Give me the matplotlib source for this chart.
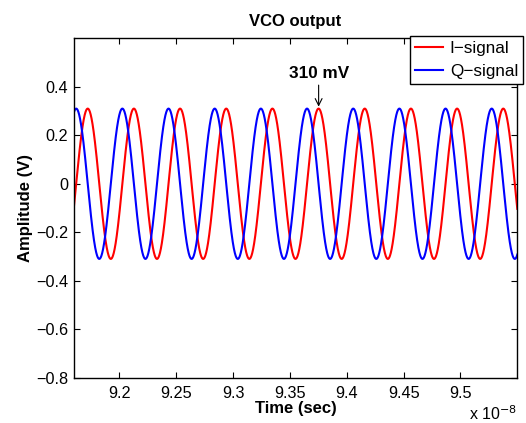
import numpy as np
import matplotlib
matplotlib.use("Agg")
import matplotlib.pyplot as plt

# ---- data ----
amplitude_V = 0.31            # peak amplitude (310 mV)
period_s = 4.06e-10           # oscillation period (~2.46 GHz)
q_peak_time_s = 9.3651e-8     # time of a Q-signal (blue) peak
t_start_s = 9.16e-8
t_end_s = 9.55e-8
annot_time_s = 9.3753e-8      # I-signal peak marked "310 mV"

x_ticks = [9.2, 9.25, 9.3, 9.35, 9.4, 9.45, 9.5]
x_tick_labels = ["9.2", "9.25", "9.3", "9.35", "9.4", "9.45", "9.5"]
y_ticks = [-0.8, -0.6, -0.4, -0.2, 0.0, 0.2, 0.4]
y_tick_labels = ["\u22120.8", "\u22120.6", "\u22120.4", "\u22120.2", "0", "0.2", "0.4"]

t = np.linspace(t_start_s, t_end_s, 4000)
phase = 2 * np.pi * (t - q_peak_time_s) / period_s
i_signal = amplitude_V * np.sin(phase)
q_signal = amplitude_V * np.cos(phase)

plt.rcParams['font.family'] = ['Liberation Sans', 'DejaVu Sans']

fig = plt.figure(figsize=(5.26, 4.23), dpi=100)
L, R, T, B = 73.8, 517.3, 38.3, 377.7
ax = fig.add_axes([L/526, 1-B/423, (R-L)/526, (B-T)/423])

ax.plot(t, i_signal, color='#ff0000', lw=1.5, label='I\u2212signal')
ax.plot(t, q_signal, color='#0000ff', lw=1.5, label='Q\u2212signal')

ax.set_xlim(t_start_s, t_end_s)
ax.set_ylim(-0.8, 0.6)
ax.set_xticks([v * 1e-8 for v in x_ticks])
ax.set_xticklabels(x_tick_labels)
ax.set_yticks(y_ticks)
ax.set_yticklabels(y_tick_labels)
ax.tick_params(axis='both', direction='in', top=True, right=True, labelsize=11.7,
               length=4, width=0.8)
ax.tick_params(axis='x', pad=6)
ax.tick_params(axis='y', pad=4)
for s in ax.spines.values():
    s.set_linewidth(1.0)

ax.set_title('VCO output', fontsize=12, fontweight='bold', pad=9)
ax.set_xlabel('Time (sec)', fontsize=12, fontweight='bold', labelpad=0)
ax.set_ylabel('Amplitude (V)', fontsize=12, fontweight='bold', labelpad=2)

ax.text(1.0, -0.105, r'x 10$^{-8}$', transform=ax.transAxes, ha='right',
        va='center', fontsize=11.5)

ax.annotate('310 mV', xy=(annot_time_s, 0.318), xytext=(annot_time_s, 0.455),
            ha='center', va='center', fontsize=12.3, fontweight='bold',
            arrowprops=dict(arrowstyle='->', color='black', lw=0.8,
                            shrinkA=1, shrinkB=0))

leg = ax.legend(loc='upper right',
                bbox_to_anchor=((523.3 - L) / (R - L), (B - 36.0) / (B - T)),
                borderaxespad=0, fontsize=12.3, frameon=True, fancybox=False,
                edgecolor='black', framealpha=1, handlelength=1.65,
                handletextpad=0.4, labelspacing=0.45, borderpad=0.3)
leg.get_frame().set_linewidth(1.0)

fig.savefig('out.png', dpi=100)
